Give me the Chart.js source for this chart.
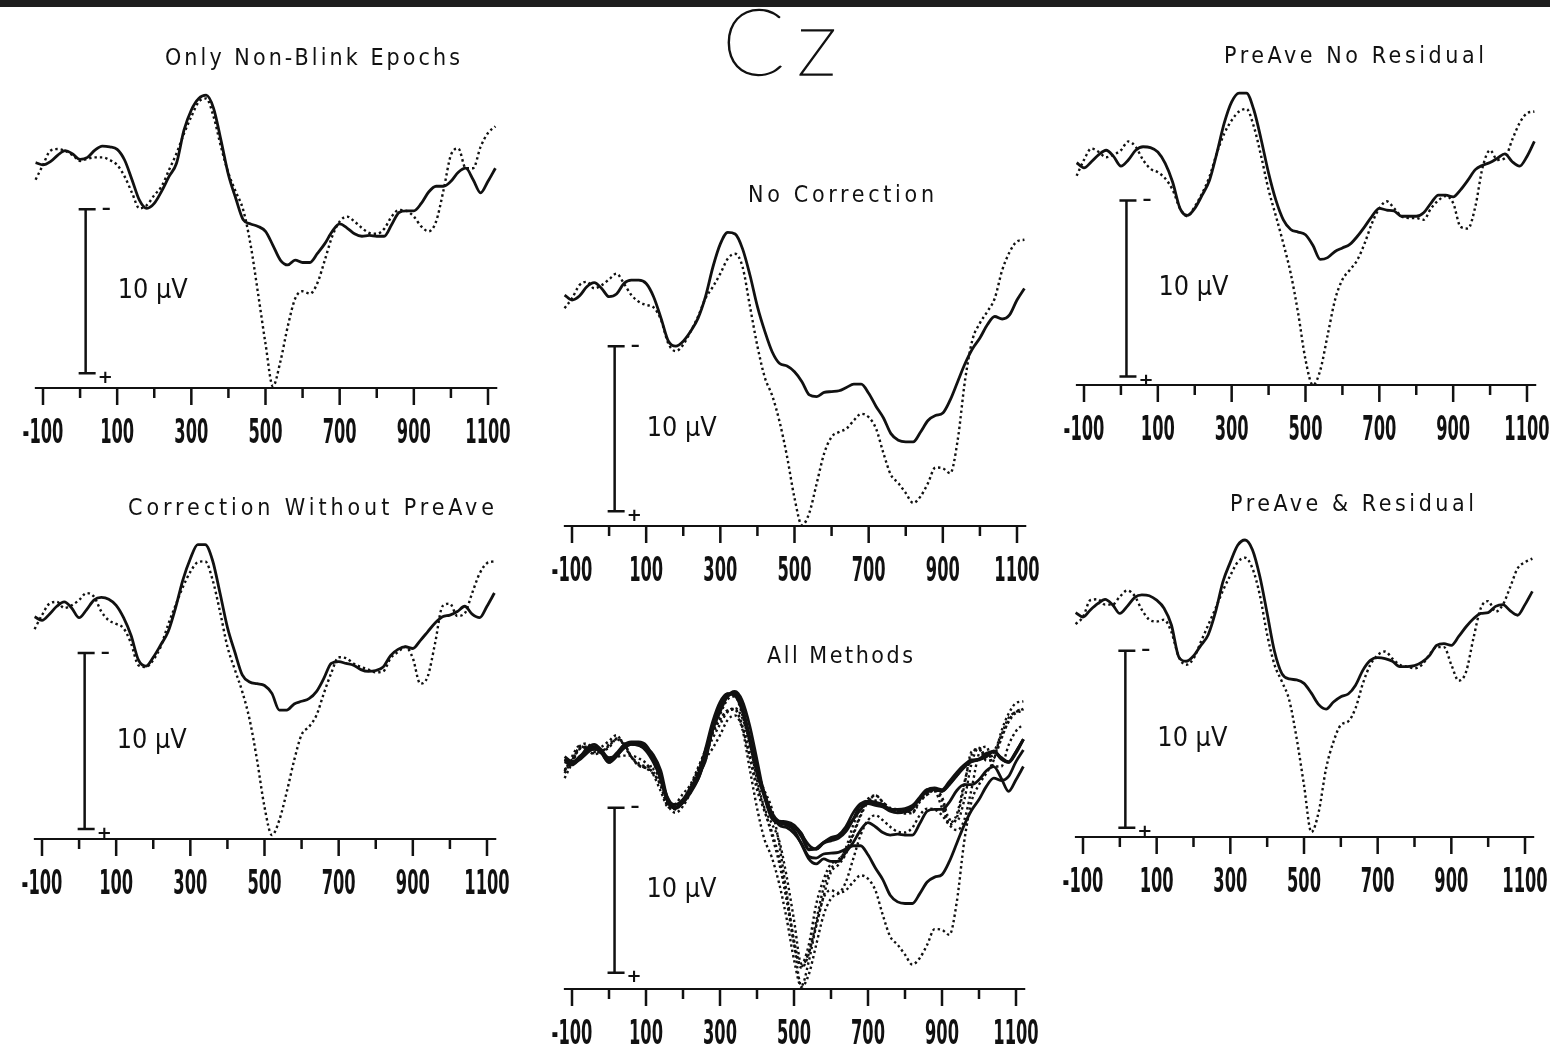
<!DOCTYPE html>
<html lang="en">
<head>
<meta charset="utf-8">
<title>Cz</title>
<script src="https://cdn.jsdelivr.net/npm/chart.js@4.4.1/dist/chart.umd.min.js"></script>
<style>
  html, body { margin: 0; padding: 0; background: #fff; }
  #page { position: relative; width: 1550px; height: 1050px; overflow: hidden; background: #fff; }
  #topbar { position: absolute; left: 0; top: 0; width: 1550px; height: 7px; background: #1e1e1e; }
  canvas { position: absolute; }
  .title {
    position: absolute; white-space: nowrap;
    font-family: 'DejaVu Sans Condensed', 'DejaVu Sans', sans-serif; font-size: 23px; line-height: 28px;
    color: #111; z-index: 2;
  }
  #cz {
    position: absolute; left: 722px; top: -6px; z-index: 2; color: #111;
    font-family: Lato, 'Open Sans', sans-serif; font-weight: 200;
    -webkit-text-stroke: 1.3px #111;
    font-size: 92px; line-height: 92px; letter-spacing: 12px;
  }
</style>
</head>
<body>
<div id="page">
  <div id="topbar"></div>
  <div id="cz">Cz</div>
</div>
<script>
// time points (ms) shared by every trace
const times = [-120, -100, -80, -60, -40, -20, 0, 20, 40, 60, 80, 100, 120, 140, 160, 180, 200, 220, 240, 260,
  280, 300, 320, 340, 360, 380, 400, 420, 440, 460, 480, 500, 520, 540, 560, 580, 600, 620, 640, 660,
  680, 700, 720, 740, 760, 780, 800, 820, 840, 860, 880, 900, 920, 940, 960, 980, 1000, 1020, 1040, 1060,
  1080, 1100, 1120];

// x axis ticks
const labeledTicks = [-100, 100, 300, 500, 700, 900, 1100];
const tickLabels = ['-100', '100', '300', '500', '700', '900', '1100'];
const minorTicks = [0, 200, 400, 600, 800, 1000];

// amplitudes in µV relative to prestimulus level (negative is plotted up)
const nonBlinkSolid = [0.16, 0.3, 0.1, -0.3, -0.57, -0.37, -0.04, -0.16, -0.6, -0.85, -0.8, -0.65, 0, 1.2, 2.45, 2.95, 2.65, 1.9, 1.0, 0.2,
  -1.8, -3.05, -3.75, -3.95, -3.15, -1.2, 0.9, 2.35, 3.65, 3.9, 4.05, 4.35, 5.2, 6.1, 6.4, 6.1, 6.25, 6.25, 5.7, 5.1,
  4.35, 3.9, 4.15, 4.5, 4.65, 4.6, 4.65, 4.65, 3.95, 3.2, 3.1, 3.1, 2.65, 1.95, 1.6, 1.6, 1.3, 0.75, 0.5, 1.2,
  2.0, 1.3, 0.5];
const nonBlinkDotted = [1.2, 0.3, -0.57, -0.67, -0.55, -0.3, 0.06, -0.08, -0.16, -0.16, 0, 0.3, 1.0, 2.0, 2.95, 2.75, 2.15, 1.6, 0.6, -0.4,
  -1.6, -2.65, -3.55, -3.75, -2.65, -0.8, 0.8, 1.95, 3.05, 5.2, 8.15, 11.2, 13.8, 12.3, 10.15, 8.45, 8.0, 8.15, 7.5, 6.1,
  4.65, 3.75, 3.45, 3.75, 4.15, 4.45, 4.5, 4.2, 3.45, 3.05, 3.1, 3.45, 4.05, 4.35, 3.75, 1.85, -0.3, -0.7, 0.5, 0.5,
  -0.8, -1.65, -2.05];

const noCorrSolid = [-0.1, 0.2, -0.04, -0.6, -0.85, -0.5, 0, -0.16, -0.8, -1.0, -1.0, -0.8, 0, 1.3, 2.7, 3.0, 2.7, 2.1, 1.3, 0,
  -1.8, -3.2, -3.9, -3.8, -2.9, -1.3, 0.6, 2.1, 3.35, 4.05, 4.2, 4.55, 5.15, 5.95, 6.05, 5.8, 5.75, 5.7, 5.5, 5.3,
  5.3, 5.85, 6.65, 7.35, 8.3, 8.7, 8.8, 8.8, 8.2, 7.5, 7.2, 7.05, 6.25, 5.15, 4.05, 3.15, 2.5, 1.7, 1.2, 1.35,
  1.1, 0.2, -0.5];
const noCorrDotted = [0.7, 0.1, -0.7, -0.9, -0.5, -0.7, -1.05, -1.4, -0.8, -0.1, 0.3, 0.5, 0.65, 1.4, 2.85, 3.3, 2.9, 2.1, 1.2, 0.1,
  -0.6, -1.4, -2.3, -2.6, -1.8, 0.6, 3.0, 4.9, 6.0, 7.6, 9.7, 12.2, 13.85, 13.1, 11.3, 9.5, 8.5, 8.2, 8.0, 7.5,
  7.1, 7.3, 8.0, 9.5, 10.8, 11.3, 11.9, 12.5, 12.1, 11.3, 10.35, 10.4, 10.7, 8.7, 5.05, 2.6, 1.6, 0.9, 0.1, -1.6,
  -2.7, -3.35, -3.45];

const corrNoPreAveSolid = [0.2, 0.4, 0.05, -0.4, -0.65, -0.3, 0.25, -0.2, -0.75, -0.9, -0.8, -0.45, 0.25, 1.25, 2.65, 3.0, 2.5, 1.8, 1.05, -0.3,
  -1.9, -3.1, -3.9, -3.9, -3.0, -1.15, 0.8, 2.2, 3.5, 3.9, 4.0, 4.1, 4.55, 5.5, 5.5, 5.15, 5.0, 4.85, 4.45, 3.7,
  2.85, 2.75, 2.85, 2.95, 3.2, 3.3, 3.25, 3.05, 2.4, 2.05, 1.9, 2.0, 1.55, 1.05, 0.55, 0.2, 0.1, -0.1, -0.4, 0.05,
  0.25, -0.4, -1.15];
const corrNoPreAveDotted = [0.9, 0.1, -0.55, -0.65, -0.3, -0.45, -0.75, -1.15, -0.95, -0.1, 0.4, 0.6, 0.85, 1.7, 2.95, 3.05, 2.65, 1.9, 0.65, -0.45,
  -1.5, -2.35, -2.9, -2.95, -1.9, -0.1, 1.9, 3.2, 4.45, 6.05, 8.35, 11.0, 12.6, 11.75, 10.15, 8.35, 6.9, 6.45, 5.8, 4.55,
  3.4, 2.5, 2.55, 2.85, 3.05, 3.2, 3.35, 3.3, 2.55, 2.2, 1.9, 2.55, 4.0, 3.6, 1.7, -0.4, -0.55, 0.15, 0, -1.15,
  -2.25, -2.85, -2.95];

const preAveNoResSolid = [0.06, 0.35, 0, -0.4, -0.65, -0.3, 0.25, -0.1, -0.65, -0.85, -0.8, -0.55, 0.1, 1.15, 2.65, 3.05, 2.65, 1.9, 1.05, -0.5,
  -2.2, -3.4, -3.9, -3.9, -2.95, -1.25, 0.65, 2.2, 3.3, 3.85, 4.0, 4.15, 4.75, 5.55, 5.45, 5.1, 4.9, 4.7, 4.25, 3.7,
  3.1, 2.65, 2.75, 2.8, 3.1, 3.1, 3.1, 2.9, 2.35, 1.9, 1.9, 2.0, 1.6, 1.05, 0.45, 0.2, 0.05, -0.2, -0.45, 0,
  0.25, -0.3, -1.15];
const preAveNoResDotted = [0.8, -0.1, -0.75, -0.55, -0.25, -0.4, -0.65, -1.15, -0.85, -0.1, 0.4, 0.6, 0.95, 1.6, 2.65, 3.1, 2.55, 1.8, 0.85, -0.5,
  -1.6, -2.35, -2.85, -3.0, -2.0, -0.3, 1.6, 3.1, 4.65, 6.35, 8.6, 11.25, 12.7, 11.85, 9.85, 7.85, 6.7, 6.15, 5.6, 4.65,
  3.5, 2.65, 2.25, 2.65, 3.1, 3.2, 3.2, 3.3, 2.65, 2.2, 1.95, 2.35, 3.7, 3.8, 2.55, 0.3, -0.65, -0.1, -0.2, -1.25,
  -2.2, -2.75, -2.85];

const preAveResSolid = [0.05, 0.3, -0.1, -0.45, -0.7, -0.4, 0.1, -0.3, -0.8, -0.95, -0.9, -0.65, -0.2, 0.75, 2.55, 2.8, 2.5, 1.9, 1.3, 0,
  -1.7, -2.8, -3.75, -4.05, -3.5, -2.0, 0.1, 2.25, 3.5, 3.8, 3.85, 4.05, 4.6, 5.25, 5.5, 5.1, 4.8, 4.65, 4.15, 3.3,
  2.75, 2.6, 2.65, 2.8, 3.1, 3.1, 3.05, 2.85, 2.5, 1.9, 1.8, 1.9, 1.4, 0.85, 0.4, 0.1, 0.05, -0.3, -0.4, -0.05,
  0.2, -0.4, -1.15];
const preAveResDotted = [0.7, 0.3, -0.65, -0.7, -0.4, -0.4, -0.85, -1.2, -0.9, -0.1, 0.45, 0.55, 0.45, 1.15, 2.55, 3.0, 2.65, 1.7, 0.75, -0.2,
  -1.2, -2.05, -2.8, -3.05, -2.45, -0.95, 1.3, 3.0, 3.95, 5.0, 7.15, 9.8, 12.45, 11.3, 8.85, 7.35, 6.4, 6.2, 5.45, 4.05,
  3.0, 2.45, 2.25, 2.65, 3.0, 3.1, 3.2, 3.0, 2.45, 2.0, 2.0, 3.0, 3.9, 3.4, 1.5, -0.2, -0.6, 0, -0.4, -1.4,
  -2.45, -2.8, -3.0];

// scale bar: 10 µV, drawn at this latency
const barLatency = 15;
const barSize = 10;

document.addEventListener('DOMContentLoaded', function () {
    const page = document.getElementById('page');

    // axis, ticks, tick labels and the 10 µV calibration bar
    const eegAxes = {
        id: 'eegAxes',
        afterDatasetsDraw(chart, args, opts) {
            const { ctx, scales: { x, y } } = chart;
            const axisY = y.getPixelForValue(y.max);
            ctx.save();
            ctx.strokeStyle = '#111';
            ctx.fillStyle = '#111';

            ctx.lineWidth = 2;
            ctx.beginPath();
            ctx.moveTo(x.left, axisY);
            ctx.lineTo(x.right, axisY);
            ctx.stroke();

            ctx.lineWidth = 2.5;
            ctx.beginPath();
            labeledTicks.forEach(v => {
                const px = x.getPixelForValue(v);
                ctx.moveTo(px, axisY);
                ctx.lineTo(px, axisY + 17);
            });
            minorTicks.forEach(v => {
                const px = x.getPixelForValue(v);
                ctx.moveTo(px, axisY);
                ctx.lineTo(px, axisY + 10);
            });
            ctx.stroke();

            // tall narrow digits: squeeze so "300" is about 34px wide
            ctx.font = "bold 33px 'DejaVu Sans Condensed', 'DejaVu Sans', sans-serif";
            ctx.textAlign = 'center';
            ctx.textBaseline = 'middle';
            const sx = 34 / ctx.measureText('300').width;
            labeledTicks.forEach((v, i) => {
                ctx.save();
                ctx.translate(x.getPixelForValue(v), axisY + 46);
                ctx.scale(sx, 1);
                ctx.fillText(tickLabels[i], 0, 0);
                ctx.restore();
            });

            // calibration bar
            const bx = x.getPixelForValue(barLatency);
            const yt = y.getPixelForValue(opts.bar);
            const yb = y.getPixelForValue(opts.bar + barSize);
            ctx.lineWidth = 2.5;
            ctx.beginPath();
            ctx.moveTo(bx, yt); ctx.lineTo(bx, yb);
            ctx.moveTo(bx - 7, yt); ctx.lineTo(bx + 10, yt);
            ctx.moveTo(bx - 7, yb); ctx.lineTo(bx + 10, yb);
            ctx.stroke();

            ctx.font = "bold 18px 'DejaVu Sans', sans-serif";
            ctx.textAlign = 'left';
            ctx.fillText('\u2013', bx + 16, yt);
            ctx.fillText('+', bx + 12, yb + 5);

            ctx.font = "27px 'DejaVu Sans Condensed', 'DejaVu Sans', sans-serif";
            const label = '10 \u00b5V';
            const lx = 70 / ctx.measureText(label).width;
            ctx.save();
            ctx.translate(bx + 32, (yt + yb) / 2);
            ctx.scale(lx, 1);
            ctx.fillText(label, 0, 0);
            ctx.restore();
            ctx.restore();
        }
    };

    const solid = arr => ({ values: arr, dotted: false });
    const dotted = arr => ({ values: arr, dotted: true });

    const allTraces = [
        solid(nonBlinkSolid), dotted(nonBlinkDotted),
        solid(noCorrSolid), dotted(noCorrDotted),
        solid(corrNoPreAveSolid), dotted(corrNoPreAveDotted),
        solid(preAveNoResSolid), dotted(preAveNoResDotted),
        solid(preAveResSolid), dotted(preAveResDotted)
    ];

    // page layout of each panel: title box, pixel of -100 / 1100 ms, axis line, prestim level, px per µV
    const panels = [
        { title: 'Only Non-Blink Epochs', tl: 165, tr: 460, ty: 57, xa: 43, xb: 488, axisY: 388, base: 160, ppu: 16.4, bar: 3.0,
          traces: [solid(nonBlinkSolid), dotted(nonBlinkDotted)] },
        { title: 'No Correction', tl: 748, tr: 934, ty: 194, xa: 572, xb: 1017, axisY: 526, base: 296.7, ppu: 16.5, bar: 3.0,
          traces: [solid(noCorrSolid), dotted(noCorrDotted)] },
        { title: 'Correction Without PreAve', tl: 128, tr: 494, ty: 507, xa: 42, xb: 487, axisY: 839, base: 613.3, ppu: 17.6, bar: 2.25,
          traces: [solid(corrNoPreAveSolid), dotted(corrNoPreAveDotted)] },
        { title: 'PreAve No Residual', tl: 1224, tr: 1484, ty: 55, xa: 1084, xb: 1527, axisY: 385, base: 161.7, ppu: 17.6, bar: 2.2,
          traces: [solid(preAveNoResSolid), dotted(preAveNoResDotted)] },
        { title: 'PreAve & Residual', tl: 1230, tr: 1474, ty: 503, xa: 1083, xb: 1525, axisY: 837, base: 611.7, ppu: 17.7, bar: 2.2,
          traces: [solid(preAveResSolid), dotted(preAveResDotted)] },
        { title: 'All Methods', tl: 767, tr: 913, ty: 655, xa: 572, xb: 1016, axisY: 989, base: 758.3, ppu: 16.5, bar: 3.0,
          traces: allTraces }
    ];

    const tMin = -122, tMax = 1125;

    panels.forEach(function (p) {
        const title = document.createElement('div');
        title.className = 'title';
        title.textContent = p.title;
        title.style.left = p.tl + 'px';
        title.style.top = (p.ty - 14) + 'px';
        page.appendChild(title);
        // spread letters so the title spans the same width as in the figure
        const natural = title.getBoundingClientRect().width;
        title.style.letterSpacing = ((p.tr - p.tl - natural) / (p.title.length - 1)) + 'px';

        const pxms = (p.xb - p.xa) / 1200;
        const areaL = p.xa + (tMin + 100) * pxms;
        const areaR = p.xa + (tMax + 100) * pxms;
        const areaTop = p.axisY - 325;
        const left = Math.floor(areaL) - 32;
        const width = Math.ceil(areaR) + 45 - left;
        const top = areaTop - 10;
        const height = p.axisY + 62 - top;

        const canvas = document.createElement('canvas');
        canvas.width = width;
        canvas.height = height;
        canvas.style.left = left + 'px';
        canvas.style.top = top + 'px';
        canvas.style.width = width + 'px';
        canvas.style.height = height + 'px';
        page.appendChild(canvas);

        const datasets = p.traces.map(tr => ({
            data: times.map((t, i) => ({ x: t, y: tr.values[i] })),
            borderColor: '#111',
            borderWidth: tr.dotted ? 2.4 : 2.8,
            borderDash: tr.dotted ? [2.4, 3] : [],
            pointRadius: 0,
            fill: false,
            cubicInterpolationMode: 'monotone',
            clip: false
        }));

        new Chart(canvas, {
            type: 'line',
            data: { datasets: datasets },
            options: {
                responsive: false,
                animation: false,
                events: [],
                layout: {
                    padding: { left: areaL - left, right: left + width - areaR, top: 10, bottom: 62 }
                },
                scales: {
                    x: { type: 'linear', min: tMin, max: tMax, display: false },
                    y: {
                        type: 'linear', reverse: true, display: false,
                        min: (areaTop - p.base) / p.ppu,
                        max: (p.axisY - p.base) / p.ppu
                    }
                },
                plugins: {
                    legend: { display: false },
                    tooltip: { enabled: false },
                    eegAxes: { bar: p.bar }
                }
            },
            plugins: [eegAxes]
        });
    });
});
</script>
</body>
</html>
